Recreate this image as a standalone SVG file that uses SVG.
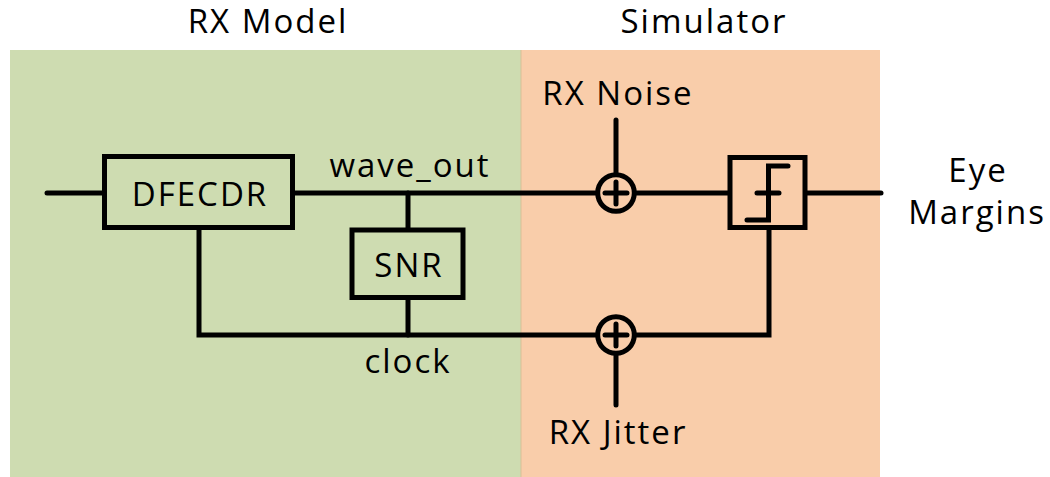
<svg xmlns="http://www.w3.org/2000/svg" width="1050" height="477" viewBox="0 0 1050 477">
<style>
.lbl{font-family:"Open Sans","Noto Sans","Liberation Sans",sans-serif;font-size:33px;fill:#000;text-anchor:middle;letter-spacing:2px}
.ln{stroke:#000;stroke-width:5;fill:none;stroke-linecap:round;stroke-linejoin:miter}
.box{stroke:#000;stroke-width:5;stroke-linejoin:miter}
</style>
<rect id="rx-model-panel" x="10" y="50" width="511" height="427" fill="#cedcb1"/>
<rect id="simulator-panel" x="521" y="50" width="359" height="427" fill="#f9cdaa"/>
<line x1="521" y1="50" x2="521" y2="477" stroke="#d9bf96" stroke-width="1"/>
<text class="lbl" x="268" y="33">RX Model</text>
<text class="lbl" x="704" y="33">Simulator</text>
<g id="connectors" class="ln">
<line x1="47" y1="193" x2="104" y2="193"/>
<line x1="292" y1="193" x2="597" y2="193"/>
<line x1="634" y1="193" x2="730" y2="193"/>
<line x1="805" y1="193" x2="881" y2="193"/>
<line x1="408" y1="193" x2="408" y2="230"/>
<line x1="408" y1="297" x2="408" y2="335"/>
<polyline points="199,227 199,335 597,335"/>
<polyline points="634,335 769,335 769,227"/>
<line x1="616" y1="120" x2="616" y2="175"/>
<line x1="616" y1="353" x2="616" y2="405"/>
</g>
<g id="dfecdr">
<rect class="box" x="104.5" y="156.5" width="188" height="71" fill="#cedcb1"/>
<text class="lbl" x="200" y="206">DFECDR</text>
</g>
<g id="snr">
<rect class="box" x="352" y="230" width="111" height="67.5" fill="#cedcb1"/>
<text class="lbl" x="409" y="277">SNR</text>
</g>
<g id="noise-sum">
<circle cx="616" cy="193" r="18.3" fill="#f9cdaa" stroke="#000" stroke-width="5"/>
<path class="ln" d="M605 193H627M616 182V204"/>
</g>
<g id="jitter-sum">
<circle cx="616" cy="335" r="18.3" fill="#f9cdaa" stroke="#000" stroke-width="5"/>
<path class="ln" d="M605 335H627M616 324V346"/>
</g>
<g id="slicer">
<rect class="box" x="730" y="157.5" width="75" height="70" fill="#f9cdaa"/>
<path class="ln" d="M788 166H768.5V220H747M757 193H779"/>
</g>
<g id="labels">
<text class="lbl" x="410" y="177">wave_out</text>
<text class="lbl" x="408" y="373">clock</text>
<text class="lbl" x="618" y="105">RX Noise</text>
<text class="lbl" x="618" y="444">RX Jitter</text>
<text class="lbl" x="978" y="182">Eye</text>
<text class="lbl" x="977" y="224">Margins</text>
</g>
</svg>
